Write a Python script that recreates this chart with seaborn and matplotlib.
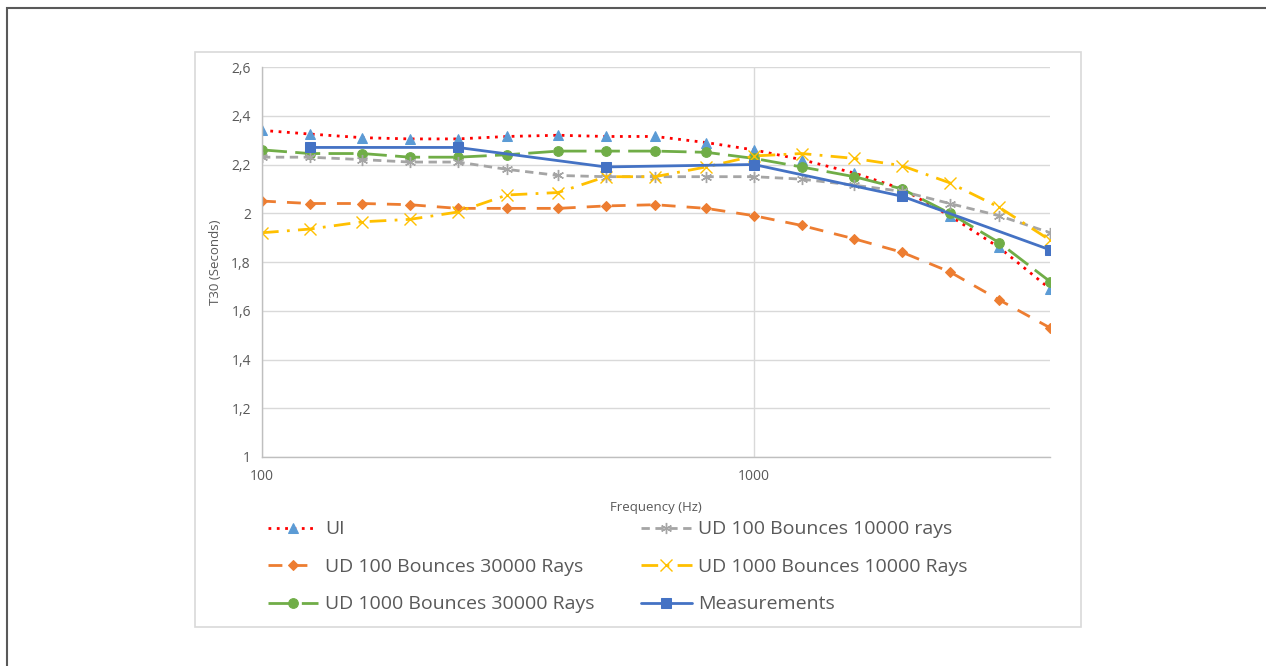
import matplotlib.pyplot as plt
import matplotlib.ticker as mticker
import numpy as np
import pandas as pd
import seaborn as sns
from matplotlib.patches import Rectangle

freqs = [100, 125, 160, 200, 250, 315, 400, 500, 630, 800,
         1000, 1250, 1600, 2000, 2500, 3150, 4000]
ui = [2.34, 2.325, 2.31, 2.305, 2.305, 2.315, 2.32, 2.315, 2.315, 2.29,
      2.26, 2.22, 2.165, 2.10, 1.99, 1.86, 1.69]
ud100_10k = [2.23, 2.23, 2.22, 2.21, 2.21, 2.18, 2.155, 2.15, 2.15, 2.15,
             2.15, 2.14, 2.115, 2.09, 2.04, 1.99, 1.92]
ud100_30k = [2.05, 2.04, 2.04, 2.035, 2.02, 2.02, 2.02, 2.03, 2.035, 2.02,
             1.99, 1.95, 1.895, 1.84, 1.76, 1.645, 1.53]
ud1000_10k = [1.92, 1.935, 1.965, 1.975, 2.005, 2.075, 2.085, 2.15, 2.15, 2.19,
              2.235, 2.245, 2.225, 2.195, 2.125, 2.025, 1.89]
ud1000_30k = [2.26, 2.245, 2.245, 2.23, 2.23, 2.24, 2.255, 2.255, 2.255, 2.25,
              2.225, 2.19, 2.15, 2.10, 2.00, 1.88, 1.72]
meas_freqs = [125, 250, 500, 1000, 2000, 4000]
meas = [2.27, 2.27, 2.19, 2.20, 2.07, 1.85]

sns.set_style("white")
plt.rcParams['font.family'] = ['Open Sans', 'DejaVu Sans']

fig = plt.figure(figsize=(12.66, 6.66), dpi=100)
ax = fig.add_axes([262 / 1266, 1 - 457 / 666, 788 / 1266, 390 / 666])

# outer frame (only top/left fall inside the image) and chart-area box
fig.add_artist(Rectangle((7 / 1266, -0.1), 1.2, 1.1 - 8 / 666, transform=fig.transFigure,
                         fill=False, edgecolor='#595959', linewidth=1.5))
fig.add_artist(Rectangle((195 / 1266, 1 - 627 / 666), 886 / 1266, 575 / 666,
                         transform=fig.transFigure, fill=False,
                         edgecolor='#d9d9d9', linewidth=1.2))

series = [
    ("UI", freqs, ui, dict(color='#ff0000', linestyle=(0, (1, 2)), marker='^',
                           markerfacecolor='#5b9bd5', markeredgecolor='#5b9bd5')),
    ("UD 100 Bounces 30000 Rays", freqs, ud100_30k,
     dict(color='#ed7d31', linestyle=(0, (5, 4)), marker='D', markersize=5,
          markeredgecolor='#ed7d31')),
    ("UD 1000 Bounces 30000 Rays", freqs, ud1000_30k,
     dict(color='#70ad47', linestyle=(0, (9, 3)), marker='o',
          markeredgecolor='#70ad47')),
    ("UD 100 Bounces 10000 rays", freqs, ud100_10k,
     dict(color='#a5a5a5', linestyle=(0, (3, 2)), marker=(6, 2, 0), markersize=8,
          markeredgewidth=1.0, markeredgecolor='#a5a5a5')),
    ("UD 1000 Bounces 10000 Rays", freqs, ud1000_10k,
     dict(color='#ffc000', linestyle=(0, (6, 3, 1, 3)), marker='x', markersize=9,
          markeredgewidth=1.0, markeredgecolor='#ffc000')),
    ("Measurements", meas_freqs, meas,
     dict(color='#4472c4', linestyle='-', marker='s', markeredgecolor='#4472c4')),
]

for name, x, y, style in series:
    df = pd.DataFrame({"Frequency": x, "T30": y})
    kw = dict(linewidth=2.0, markersize=7)
    kw.update(style)
    sns.lineplot(data=df, x="Frequency", y="T30", ax=ax, label=name, **kw)

ax.set_xscale('log')
ax.set_xlim(100, 4000)
ax.set_ylim(1, 2.6)
ax.set_yticks(np.arange(1, 2.61, 0.2))
ax.yaxis.set_major_formatter(mticker.FuncFormatter(
    lambda v, p: ('%g' % round(v, 1)).replace('.', ',')))
ax.xaxis.set_major_locator(mticker.FixedLocator([100, 1000]))
ax.xaxis.set_minor_locator(mticker.NullLocator())
ax.xaxis.set_major_formatter(mticker.FuncFormatter(lambda v, p: '%d' % v))

ax.grid(True, color='#d9d9d9', linewidth=1.0)
ax.set_axisbelow(True)
for side in ['top', 'right']:
    ax.spines[side].set_visible(False)
for side in ['left', 'bottom']:
    ax.spines[side].set_color('#bfbfbf')
    ax.spines[side].set_linewidth(1.0)
ax.tick_params(axis='both', length=0, labelsize=10, labelcolor='#595959')
ax.tick_params(axis='y', pad=8)
ax.tick_params(axis='x', pad=9)

ax.set_xlabel("Frequency (Hz)", fontsize=9.5, color='#595959', labelpad=12)
ax.set_ylabel("T30 (Seconds)", fontsize=9.5, color='#595959', labelpad=7)

handles, labels = ax.get_legend_handles_labels()
ax.legend_.remove()
fig.legend(handles, labels, ncol=2, loc='upper left',
           bbox_to_anchor=(250 / 1266, 1 - 503 / 666), frameon=False,
           fontsize=14, labelcolor='#595959', handlelength=2.6,
           columnspacing=2.4, labelspacing=1.0, handletextpad=0.35)

fig.savefig("out.png", dpi=100, facecolor='white')
